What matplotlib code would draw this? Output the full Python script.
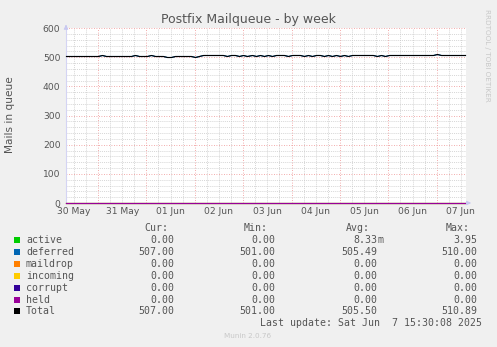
import numpy as np
from matplotlib import pyplot as plt

# legend / series info
names = ["active", "deferred", "maildrop", "incoming", "corrupt", "held", "Total"]
colors = ["#00CC00", "#0066B3", "#FF8000", "#FFCC00", "#330099", "#990099", "#000000"]
cur_txt = ["0.00", "507.00", "0.00", "0.00", "0.00", "0.00", "507.00"]
min_txt = ["0.00", "501.00", "0.00", "0.00", "0.00", "0.00", "501.00"]
avg_txt = ["8.33m", "505.49", "0.00", "0.00", "0.00", "0.00", "505.50"]
max_txt = ["3.95", "510.00", "0.00", "0.00", "0.00", "0.00", "510.89"]

day_labels = ["30 May", "31 May", "01 Jun", "02 Jun", "03 Jun", "04 Jun", "05 Jun", "06 Jun", "07 Jun"]

# time in days since 30 May 00:00, one sample every 2 hours
t_start = 0.34
step = 1 / 12.0
deferred = [503, 503, 503, 503, 503, 503, 503, 503, 504, 508,
            503, 503, 503, 503, 503, 503, 503, 506, 503, 503,
            503, 506, 505, 503, 503, 501, 502, 503, 503, 503,
            503, 503, 501, 505, 506, 506, 506, 506, 506, 507,
            505, 507, 506, 504, 507, 505, 507, 505, 507, 504,
            507, 505, 507, 506, 506, 504, 507, 506, 507, 505,
            507, 504, 507, 506, 504, 507, 505, 506, 504, 506,
            504, 506, 506, 506, 506, 506, 506, 504, 507, 505,
            506, 506, 506, 506, 506, 506, 506, 506, 506, 506,
            506, 506, 510, 507, 507, 507, 507, 507, 507, 507]
active = [0] * 60 + [1] + [0] * 39
maildrop = [0] * 100
incoming = [0] * 100
corrupt = [0] * 100
held = [0] * 100

t = t_start + step * np.arange(len(deferred))
total = np.array(deferred) + np.array(active)
series = [active, deferred, maildrop, incoming, corrupt, held, total]

W, H = 497, 347
fig = plt.figure(figsize=(W / 100, H / 100), dpi=100, facecolor="#F0F0F0")
L, R, T, B = 66, 466, 28, 203
ax = fig.add_axes([L / W, 1 - B / H, (R - L) / W, (B - T) / H])
ax.set_facecolor("white")
for s in ax.spines.values():
	s.set_visible(False)

x0, x1 = t_start, 8.605
ax.set_xlim(x0, x1)
ax.set_ylim(0, 600)

# grid: minor grey, major red
for d in np.arange(0.25, 9, 0.25):
	if x0 < d < x1:
		if abs(d - round(d)) < 1e-6:
			ax.axvline(d, color="#EE9090", lw=0.6, ls=(0, (1, 2)), zorder=1)
		else:
			ax.axvline(d, color="#C8C8C8", lw=0.5, ls=(0, (1.5, 1.5)), zorder=1)
for v in range(20, 601, 20):
	if v % 100 == 0:
		ax.axhline(v, color="#EE9090", lw=0.6, ls=(0, (1, 2)), zorder=1)
	else:
		ax.axhline(v, color="#C8C8C8", lw=0.5, ls=(0, (1.5, 1.5)), zorder=1)

for ys, c in zip(series, colors):
	ax.plot(t, ys, color=c, lw=0.8, zorder=3, clip_on=False, snap=True)

# axes lines with arrows
ax.plot([x0, x0], [0, 600], color="#D4D4F4", lw=0.8, zorder=2, clip_on=False)
ax.annotate("", xy=(0, 1.035), xycoords="axes fraction", xytext=(0, 0.99),
			arrowprops=dict(arrowstyle="-|>", color="#C8C8F0", lw=0.8, mutation_scale=6))
ax.annotate("", xy=(1.02, 0), xycoords="axes fraction", xytext=(0.995, 0),
			arrowprops=dict(arrowstyle="-|>", color="#C8C8F0", lw=0.8, mutation_scale=6))

ax.set_yticks(range(0, 601, 100))
ax.tick_params(axis="y", length=0, pad=4, labelsize=6.6, labelcolor="#555555")
ax.set_xticks(np.arange(len(day_labels)) + 0.5)
ax.set_xticklabels(day_labels)
ax.tick_params(axis="x", length=0, pad=3, labelsize=6.6, labelcolor="#555555")

fig.text(248 / W, 1 - 19 / H, "Postfix Mailqueue - by week", ha="center", va="center",
		 fontsize=9, color="#555555")
fig.text(10 / W, 1 - 115 / H, "Mails in queue", ha="center", va="center", rotation=90,
		 fontsize=7.6, color="#555555")
fig.text(487 / W, 1 - 55 / H, "RRDTOOL / TOBI OETIKER", ha="center", va="center", rotation=270,
		 fontsize=5.2, color="#C8C8C8")

# legend block
mono = dict(family="DejaVu Sans Mono", fontsize=7.1, color="#555555", va="center")
head_y = 228
fig.text(168 / W, 1 - head_y / H, "Cur:", ha="right", **mono)
fig.text(268 / W, 1 - head_y / H, "Min:", ha="right", **mono)
fig.text(370 / W, 1 - head_y / H, "Avg:", ha="right", **mono)
fig.text(470 / W, 1 - head_y / H, "Max:", ha="right", **mono)
row_y = [240, 252, 264, 276, 288, 300, 311]
for i, n in enumerate(names):
	yy = 1 - row_y[i] / H
	fig.patches.append(plt.Rectangle((14 / W, yy - 3 / H), 6 / W, 6 / H, transform=fig.transFigure,
									 facecolor=colors[i], edgecolor="none"))
	fig.text(26 / W, yy, n, ha="left", **mono)
	fig.text(174 / W, yy, cur_txt[i], ha="right", **mono)
	fig.text(275 / W, yy, min_txt[i], ha="right", **mono)
	a = avg_txt[i]
	if a.endswith("m"):
		fig.text(377 / W, yy, a[:-1], ha="right", **mono)
		fig.text(377 / W, yy, "m", ha="left", **mono)
	else:
		fig.text(377 / W, yy, a, ha="right", **mono)
	fig.text(477 / W, yy, max_txt[i], ha="right", **mono)

fig.text(482 / W, 1 - 323 / H, "Last update: Sat Jun  7 15:30:08 2025", ha="right", **mono)
fig.text(248 / W, 1 - 336 / H, "Munin 2.0.76", ha="center", va="center", fontsize=5.2, color="#C8C8C8")

fig.savefig("out.png", dpi=100, facecolor=fig.get_facecolor())
